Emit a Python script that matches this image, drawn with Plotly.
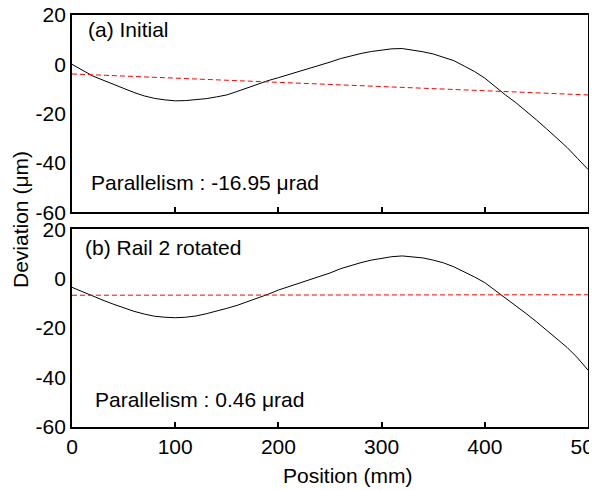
import plotly.graph_objects as go

# ---- data ----
position = [0, 10, 20, 30, 40, 50, 60, 70, 80, 90, 100, 110, 120, 130, 140, 150, 160, 170, 180, 190,
            200, 210, 220, 230, 240, 250, 260, 270, 280, 290, 300, 310, 320, 330, 340, 350, 360, 370,
            380, 390, 400, 410, 420, 430, 440, 450, 460, 470, 480, 490, 500]

deviation_initial = [0.0, -2.3, -4.7, -6.4, -8.1, -9.8, -11.4, -12.8, -13.8, -14.4, -14.8, -14.7, -14.4,
                     -13.9, -13.2, -12.4, -11.0, -9.5, -8.0, -6.6, -5.4, -4.2, -3.0, -1.8, -0.5, 0.9,
                     2.3, 3.5, 4.4, 5.2, 5.9, 6.3, 6.4, 5.8, 5.1, 4.2, 3.0, 1.5, -0.7, -2.9, -5.6,
                     -9.2, -12.4, -15.5, -18.9, -22.5, -26.2, -30.0, -33.8, -38.2, -42.6]

deviation_rotated = [-3.5, -5.3, -7.2, -8.7, -10.3, -11.8, -13.2, -14.3, -15.2, -15.6, -15.8, -15.6, -15.1,
                     -14.2, -13.2, -12.0, -10.8, -9.4, -8.0, -6.3, -4.6, -3.2, -1.8, -0.5, 0.8, 2.3,
                     4.0, 5.4, 6.5, 7.5, 8.3, 8.9, 9.2, 8.9, 8.4, 7.5, 6.4, 4.8, 2.9, 0.7, -1.6,
                     -4.7, -7.6, -11.0, -14.1, -17.4, -20.8, -24.4, -27.9, -32.1, -37.0]

fit_x = [0, 500]
fit_initial = [-3.9, -12.4]
fit_rotated = [-6.7, -6.5]

x_ticks = [0, 100, 200, 300, 400, 500]
y_ticks = [20, 0, -20, -40, -60]
y_tick_labels = ["20", "0", "-20", "-40", "-60"]

panel_a_label = "(a) Initial"
panel_b_label = "(b) Rail 2 rotated"
parallel_a = "Parallelism : -16.95 μrad"
parallel_b = "Parallelism : 0.46 μrad"

FONT = "Liberation Sans, Arial, sans-serif"
FS = 21

fig = go.Figure()
fig.add_trace(go.Scatter(x=position, y=deviation_initial, mode="lines",
                         line=dict(color="black", width=1), xaxis="x", yaxis="y"))
fig.add_trace(go.Scatter(x=fit_x, y=fit_initial, mode="lines",
                         line=dict(color="#ff0000", width=1, dash="5px,3px"), xaxis="x", yaxis="y"))
fig.add_trace(go.Scatter(x=position, y=deviation_rotated, mode="lines",
                         line=dict(color="black", width=1), xaxis="x2", yaxis="y2"))
fig.add_trace(go.Scatter(x=fit_x, y=fit_rotated, mode="lines",
                         line=dict(color="#ff0000", width=1, dash="5px,3px"), xaxis="x2", yaxis="y2"))

axis_common = dict(showline=True, linecolor="black", linewidth=1.8, mirror=True,
                   showgrid=False, zeroline=False, automargin=False)

# page body has an 8px offset; plot area in the window spans x 72..588, y 15..427
fig.update_layout(
    width=597, height=490,
    margin=dict(l=64, r=17, t=7, b=71),
    paper_bgcolor="white", plot_bgcolor="white",
    showlegend=False,
    font=dict(family=FONT, size=FS, color="black"),
    xaxis=dict(axis_common, range=[0, 500], tickvals=x_ticks, showticklabels=False,
               ticks="inside", ticklen=5, tickwidth=1.5, tickcolor="black",
               anchor="y", domain=[0, 1]),
    yaxis=dict(axis_common, range=[-60, 20], tickvals=y_ticks, ticktext=y_tick_labels, ticks="",
               domain=[0.521, 1.0], anchor="x", tickfont=dict(size=FS),
               ticklabeloverflow="allow"),
    xaxis2=dict(axis_common, range=[0, 500], tickvals=x_ticks, showticklabels=True,
                ticks="inside", ticklen=5, tickwidth=1.5, tickcolor="black",
                anchor="y2", domain=[0, 1], tickfont=dict(size=FS),
                ticklabeloverflow="allow"),
    yaxis2=dict(axis_common, range=[-60, 20], tickvals=y_ticks, ticktext=y_tick_labels, ticks="",
                domain=[0.0, 0.48], anchor="x2", tickfont=dict(size=FS),
                ticklabeloverflow="allow"),
)

annotations = [
    dict(text=panel_a_label, x=13.5, y=14, xref="x", yref="y", xanchor="left", yanchor="middle",
         showarrow=False, font=dict(size=FS)),
    dict(text=parallel_a, x=16.5, y=-48, xref="x", yref="y", xanchor="left", yanchor="middle",
         showarrow=False, font=dict(size=FS)),
    dict(text=panel_b_label, x=10.5, y=12.5, xref="x2", yref="y2", xanchor="left", yanchor="middle",
         showarrow=False, font=dict(size=FS)),
    dict(text=parallel_b, x=20, y=-49, xref="x2", yref="y2", xanchor="left", yanchor="middle",
         showarrow=False, font=dict(size=FS)),
    dict(text="Deviation (μm)", x=(12 - 64) / 516, y=(419 - 212) / 412, xref="paper", yref="paper",
         showarrow=False, textangle=-90, xanchor="center", yanchor="middle", font=dict(size=FS)),
    dict(text="Position (mm)", x=(340 - 64) / 516, y=(419 - 467) / 412, xref="paper", yref="paper",
         showarrow=False, xanchor="center", yanchor="middle", font=dict(size=FS)),
]
fig.update_layout(annotations=annotations)

fig.write_html("out.html")
